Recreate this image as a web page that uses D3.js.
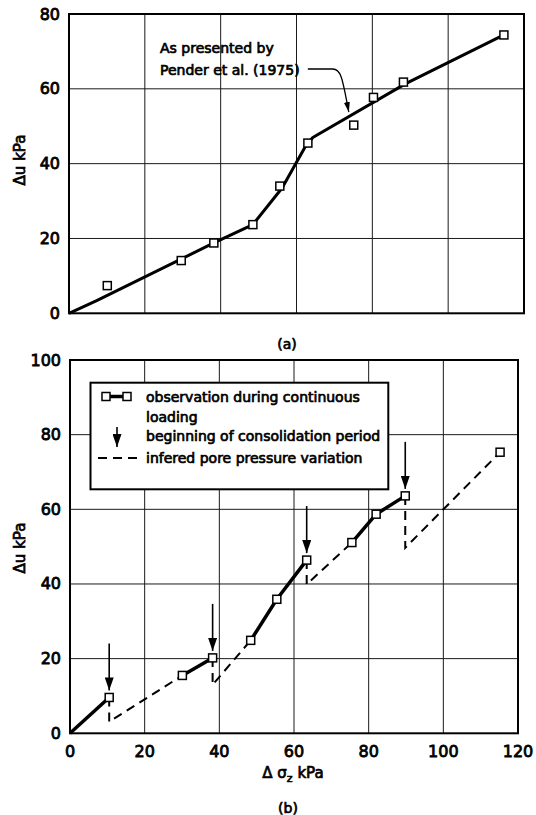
<!DOCTYPE html>
<html><head><meta charset="utf-8">
<script src="https://cdn.jsdelivr.net/npm/d3@7"></script>
<style>body{margin:0;background:#fff}svg{display:block}</style>
</head><body>
<script>
// ---------------- DATA ----------------
const xTicks = [0, 20, 40, 60, 80, 100, 120];
const yTicksA = [0, 20, 40, 60, 80];
const yTicksB = [0, 20, 40, 60, 80, 100];

// (a) observations and fitted curve (Pender et al. 1975)
const obsAx = [10.1, 29.6, 38.2, 48.5, 55.6, 63.0, 75.1, 80.3, 88.2, 114.7];
const obsAy = [7.4, 14.1, 18.8, 23.7, 34.0, 45.5, 50.3, 57.7, 61.8, 74.4];
const fitAx = [0, 7.3, 38.2, 48.5, 56.2, 62.3, 64.3, 88.8, 114.7];
const fitAy = [0, 3.4, 18.8, 23.7, 33.5, 44.5, 47.0, 61.4, 74.4];
const annotLines = ["As presented by", "Pender et al. (1975)"];
const annotTextAt = [24.0, 70.8];
const annotTipAt = [73.8, 53.8];

// (b) observations during continuous loading
const obsBx = [0, 10.5, 30.1, 38.2, 48.4, 55.4, 63.4, 75.5, 82.0, 89.8, 115.2];
const obsBy = [0, 9.6, 15.5, 20.2, 24.9, 35.9, 46.4, 51.1, 58.7, 63.6, 75.3];
const loadingSegments = [[0, 1], [2, 3], [4, 5, 6], [7, 8, 9]];
const consolidationIdx = [1, 3, 6, 9];
const droppedY = [3.1, 13.0, 39.9, 49.7];
const resumeIdx = [2, 4, 7, 10];
const legendLabels = ["observation during continuous", "loading",
  "beginning of consolidation period", "infered pore pressure variation"];

// ---------------- DRAW ----------------
const W = 536, H = 815;
const FONT = "'DejaVu Sans', sans-serif";
const svg = d3.select("body").append("svg").attr("width", W).attr("height", H)
  .style("font-family", FONT);

function boldish(sel, w) {
  return sel.attr("fill", "#000").style("stroke", "#000")
    .style("stroke-width", (w == null ? 0.7 : w) + "px").style("paint-order", "stroke");
}

const defs = svg.append("defs");
defs.append("marker").attr("id", "bigHead").attr("viewBox", "0 0 13 9")
  .attr("refX", 13).attr("refY", 4.5).attr("markerWidth", 13).attr("markerHeight", 9)
  .attr("markerUnits", "userSpaceOnUse").attr("orient", "auto")
  .append("path").attr("d", "M0,0 L13,4.5 L0,9 Z").attr("fill", "#000");
defs.append("marker").attr("id", "smallHead").attr("viewBox", "0 0 10 6")
  .attr("refX", 10).attr("refY", 3).attr("markerWidth", 10).attr("markerHeight", 6)
  .attr("markerUnits", "userSpaceOnUse").attr("orient", "auto")
  .append("path").attr("d", "M0,0 L10,3 L0,6 Z").attr("fill", "#000");

function panel(x, y, yTicks) {
  const g = svg.append("g");
  g.selectAll(".vg").data(xTicks.slice(1, -1)).enter().append("line")
    .attr("x1", d => x(d)).attr("x2", d => x(d))
    .attr("y1", y.range()[0]).attr("y2", y.range()[1])
    .attr("stroke", "#1a1a1a").attr("stroke-width", 1);
  g.selectAll(".hg").data(yTicks.slice(1, -1)).enter().append("line")
    .attr("y1", d => y(d)).attr("y2", d => y(d))
    .attr("x1", x.range()[0]).attr("x2", x.range()[1])
    .attr("stroke", "#1a1a1a").attr("stroke-width", 1);
  g.append("rect").attr("x", x.range()[0]).attr("y", y.range()[1])
    .attr("width", x.range()[1] - x.range()[0]).attr("height", y.range()[0] - y.range()[1])
    .attr("fill", "none").attr("stroke", "#000").attr("stroke-width", 2);
  boldish(g.selectAll(".yt").data(yTicks).enter().append("text")
    .attr("x", x.range()[0] - 9).attr("y", d => y(d))
    .attr("text-anchor", "end").attr("dominant-baseline", "central")
    .attr("font-size", 16).text(d => d), 0.8);
  return g;
}

function squares(g, xs, ys, x, y, idx) {
  g.selectAll(null).data(idx).enter().append("rect")
    .attr("x", i => x(xs[i]) - 4).attr("y", i => y(ys[i]) - 4)
    .attr("width", 8).attr("height", 8)
    .attr("fill", "#fff").attr("stroke", "#000").attr("stroke-width", 1.5);
}

// ----- panel (a)
const xA = d3.scaleLinear().domain([0, 120]).range([69, 524]);
const yA = d3.scaleLinear().domain([0, 80]).range([313.3, 14]);
const gA = panel(xA, yA, yTicksA);
gA.append("path").datum(d3.range(fitAx.length))
  .attr("d", d3.line().x(i => xA(fitAx[i])).y(i => yA(fitAy[i])))
  .attr("fill", "none").attr("stroke", "#000").attr("stroke-width", 3)
  .attr("stroke-linejoin", "round");
squares(gA, obsAx, obsAy, xA, yA, d3.range(obsAx.length));
const ax0 = xA(annotTextAt[0]), ay0 = yA(annotTextAt[1]);
annotLines.forEach((t, i) => {
  boldish(gA.append("text").attr("x", ax0).attr("y", ay0 + i * 22)
    .attr("dominant-baseline", "central").attr("font-size", 14).text(t));
});
const tx = xA(annotTipAt[0]), ty = yA(annotTipAt[1]);
gA.append("path")
  .attr("d", `M${tx - 41},${ty - 43} H${tx - 16} C${tx - 7},${ty - 43} ${tx - 6},${ty - 30} ${tx},${ty}`)
  .attr("fill", "none").attr("stroke", "#000").attr("stroke-width", 1.3)
  .attr("marker-end", "url(#smallHead)");
boldish(svg.append("text").attr("transform", "translate(20,160) rotate(-90)")
  .attr("text-anchor", "middle").attr("dominant-baseline", "central")
  .attr("font-size", 15).text("Δu  kPa"));
boldish(svg.append("text").attr("x", 287).attr("y", 344).attr("text-anchor", "middle")
  .attr("dominant-baseline", "central").attr("font-size", 14).text("(a)"));

// ----- panel (b)
const xB = d3.scaleLinear().domain([0, 120]).range([70, 518]);
const yB = d3.scaleLinear().domain([0, 100]).range([733.3, 360]);
const gB = panel(xB, yB, yTicksB);
boldish(gB.selectAll(".xt").data(xTicks).enter().append("text")
  .attr("x", d => xB(d)).attr("y", 751).attr("text-anchor", "middle")
  .attr("dominant-baseline", "central").attr("font-size", 16).text(d => d), 0.8);

consolidationIdx.forEach((ci, k) => {
  const ri = resumeIdx[k];
  gB.append("path")
    .attr("d", d3.line()([[xB(obsBx[ci]), yB(obsBy[ci])], [xB(obsBx[ci]), yB(droppedY[k])],
      [xB(obsBx[ri]), yB(obsBy[ri])]]))
    .attr("fill", "none").attr("stroke", "#000").attr("stroke-width", 2)
    .attr("stroke-dasharray", "9,6");
});
loadingSegments.forEach(seg => {
  gB.append("path").datum(seg)
    .attr("d", d3.line().x(i => xB(obsBx[i])).y(i => yB(obsBy[i])))
    .attr("fill", "none").attr("stroke", "#000").attr("stroke-width", 3.5)
    .attr("stroke-linejoin", "round");
});
consolidationIdx.forEach(ci => {
  const px = xB(obsBx[ci]), py = yB(obsBy[ci]);
  gB.append("line").attr("x1", px).attr("x2", px).attr("y1", py - 54).attr("y2", py - 7)
    .attr("stroke", "#000").attr("stroke-width", 1.6).attr("marker-end", "url(#bigHead)");
});
squares(gB, obsBx, obsBy, xB, yB, d3.range(1, obsBx.length));

// legend
const leg = gB.append("g");
leg.append("rect").attr("x", 90.5).attr("y", 382.7).attr("width", 297.8).attr("height", 106.6)
  .attr("fill", "#fff").attr("stroke", "#000").attr("stroke-width", 2);
const rowY = [396.5, 417, 435.5, 458];
leg.append("line").attr("x1", 106).attr("x2", 127).attr("y1", rowY[0]).attr("y2", rowY[0])
  .attr("stroke", "#000").attr("stroke-width", 3.5);
[106, 127].forEach(cx => leg.append("rect").attr("x", cx - 4).attr("y", rowY[0] - 4)
  .attr("width", 8).attr("height", 8).attr("fill", "#fff").attr("stroke", "#000").attr("stroke-width", 1.5));
leg.append("line").attr("x1", 117).attr("x2", 117).attr("y1", 427).attr("y2", 447)
  .attr("stroke", "#000").attr("stroke-width", 1.6).attr("marker-end", "url(#bigHead)");
leg.append("line").attr("x1", 98).attr("x2", 138).attr("y1", rowY[3]).attr("y2", rowY[3])
  .attr("stroke", "#000").attr("stroke-width", 2).attr("stroke-dasharray", "9,6");
legendLabels.forEach((t, i) => {
  boldish(leg.append("text").attr("x", 146).attr("y", rowY[i]).attr("dominant-baseline", "central")
    .attr("font-size", 14).text(t));
});

boldish(svg.append("text").attr("transform", "translate(20,548) rotate(-90)")
  .attr("text-anchor", "middle").attr("dominant-baseline", "central")
  .attr("font-size", 15).text("Δu  kPa"));
const xl = boldish(svg.append("text").attr("x", 293).attr("y", 773).attr("text-anchor", "middle")
  .attr("dominant-baseline", "central").attr("font-size", 15));
xl.append("tspan").text("Δ σ");
xl.append("tspan").attr("font-size", 11).attr("dy", 5).text("z");
xl.append("tspan").attr("dy", -5).text("  kPa");
boldish(svg.append("text").attr("x", 288).attr("y", 808).attr("text-anchor", "middle")
  .attr("dominant-baseline", "central").attr("font-size", 14).text("(b)"));
</script>
</body></html>
